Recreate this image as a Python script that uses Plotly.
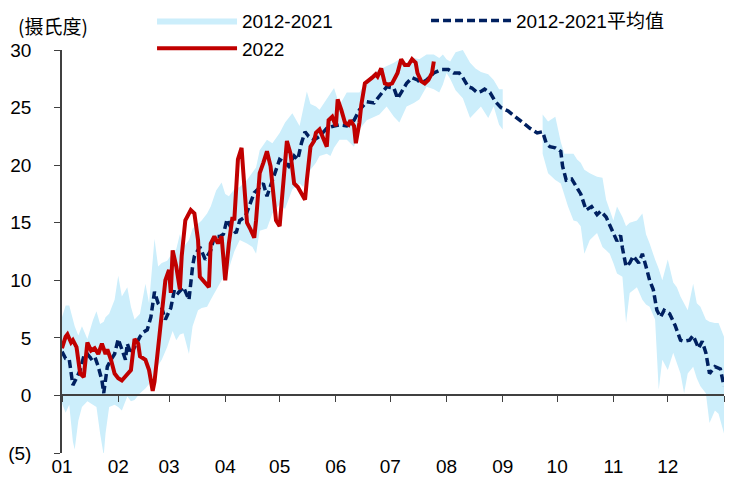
import plotly.graph_objects as go

# day of year (0 = 1 Jan), month axis labels
month_starts = [0, 31, 59, 90, 120, 151, 181, 212, 243, 273, 304, 334]
month_labels = ["01", "02", "03", "04", "05", "06", "07", "08", "09", "10", "11", "12"]

# 2012-2021 range (max / min); None marks the stretch with no data
band_days = [0, 2, 4, 6, 7, 9, 11, 14, 17, 19, 21, 23, 24, 26, 29, 31, 33, 36, 38, 40,
             43, 46, 48, 51, 53, 55, 58, 61, 63, 65, 67, 70, 72, 75, 77, 80, 82, 85, 88, 90,
             92, 95, 98, 102, 105, 107, 109, 113, 116, 120, 123, 127, 131, 133, 135, 137, 140, 142, 146, 148,
             150, 153, 157, 161, 164, 168, 172, 175, 179, 183, 186, 190, 194, 197, 201, 205, 208, 210, 212, 214,
             217, 221, 225, 228, 231, 235, 238, 241, 243, 254, 265, 268, 272, 275, 277, 279, 282, 284, 286, 288,
             291, 295, 298, 300, 302, 304, 306, 309, 311, 313, 317, 320, 322, 324, 327, 329, 331, 334, 337, 339,
             341, 343, 345, 348, 350, 352, 355, 357, 360, 362, 365]
band_hi = [6.8, 7.8, 7.8, 6.5, 6.0, 5.2, 6.0, 4.9, 6.5, 7.3, 6.2, 6.4, 6.8, 7.1, 8.3, 10.4, 8.6, 9.4, 7.7, 6.6,
           7.1, 9.7, 8.0, 13.6, 11.2, 11.5, 11.7, 12.4, 12.7, 14.0, 12.9, 13.5, 14.5, 14.9, 15.2, 15.8, 16.4, 17.8, 18.5, 17.5,
           17.3, 17.9, 18.1, 18.7, 19.3, 19.8, 21.3, 22.2, 21.9, 22.8, 23.7, 24.5, 23.4, 24.8, 26.4, 25.3, 25.1, 24.8, 25.8, 26.2,
           26.7, 25.2, 26.3, 26.3, 26.3, 27.4, 28.0, 28.3, 28.6, 28.9, 29.2, 28.9, 29.3, 29.2, 29.6, 29.6, 29.3, 29.6, 29.2, 29.0,
           29.8, 30.0, 28.9, 28.4, 28.1, 27.9, 27.4, 26.6, 26.6, None, 24.4, 23.8, 24.2, 22.0, 21.0, 21.0, 21.0, 20.5, 20.2, 19.6,
           19.3, 19.0, 18.9, 17.0, 16.0, 15.2, 16.4, 15.5, 14.7, 15.0, 15.2, 15.8, 14.0, 13.2, 11.8, 11.0, 10.0, 11.8, 9.8, 9.4,
           8.6, 8.0, 7.4, 9.7, 8.0, 7.7, 6.6, 6.4, 6.3, 6.3, 5.1]
band_lo = [-0.7, -1.5, -0.8, -4.0, -4.7, -2.2, -1.0, -0.5, -0.8, -1.0, -3.3, -5.2, -3.3, -1.0, -0.8, -1.0, -1.3, -0.1, -0.5, -0.4,
           0.2, 0.6, 1.0, 1.9, 2.6, 3.1, 4.2, 5.6, 4.8, 5.3, 5.4, 3.6, 6.0, 7.4, 7.6, 7.7, 8.3, 9.2, 10.0, 10.3,
           11.0, 12.5, 13.5, 13.2, 12.9, 12.3, 14.3, 14.5, 15.8, 16.6, 16.2, 17.9, 18.4, 18.1, 19.0, 19.6, 20.2, 20.8, 21.0, 20.8,
           21.5, 22.2, 22.2, 21.6, 23.1, 23.9, 24.2, 24.4, 25.1, 24.2, 23.7, 25.1, 25.4, 25.7, 26.8, 26.6, 26.3, 27.0, 28.0, 27.5,
           26.5, 25.8, 24.1, 24.6, 25.1, 24.1, 25.1, 23.5, 23.1, None, 21.0, 19.3, 18.7, 18.4, 17.5, 16.4, 15.2, 15.1, 14.7, 12.3,
           13.5, 14.1, 12.9, 12.6, 12.3, 11.5, 10.6, 10.3, 6.3, 8.9, 9.4, 8.3, 7.9, 7.7, 6.6, 0.5, 3.1, 2.2, 3.7, 2.8,
           1.9, 0.2, 1.9, 2.5, 1.5, 0.8, 0.2, -2.4, -1.3, -1.6, -3.3]

# 2012-2021 average
avg_days = [0, 2, 4, 5, 6, 8, 10, 12, 14, 16, 18, 20, 22, 23, 24, 25, 27, 29, 31, 33,
            35, 36, 38, 40, 43, 45, 47, 49, 51, 53, 55, 57, 60, 62, 64, 67, 70, 72, 73, 76,
            79, 82, 84, 87, 89, 91, 93, 96, 98, 101, 104, 106, 108, 111, 113, 116, 118, 120, 123, 125,
            128, 130, 132, 134, 136, 139, 142, 146, 150, 153, 157, 161, 164, 168, 172, 175, 179, 183, 185, 187,
            190, 193, 196, 198, 201, 205, 209, 213, 216, 219, 221, 224, 226, 229, 231, 233, 236, 239, 242, 246,
            258, 262, 265, 267, 269, 272, 275, 276, 278, 281, 284, 286, 289, 292, 295, 297, 300, 302, 304, 306,
            308, 309, 311, 313, 315, 318, 320, 322, 324, 326, 328, 330, 332, 335, 338, 341, 343, 346, 348, 351,
            353, 355, 357, 360, 363, 365]
avg_vals = [3.8, 3.2, 3.1, 1.9, 0.9, 1.5, 2.2, 3.4, 3.6, 3.2, 3.4, 2.5, 1.3, 0.2, 1.3, 2.5, 3.1, 3.6, 4.9, 3.9,
            3.1, 4.5, 3.6, 4.2, 5.1, 5.5, 5.7, 6.8, 9.0, 8.0, 7.6, 6.6, 7.6, 9.2, 8.9, 9.4, 8.3, 11.2, 12.1, 12.9,
            11.8, 12.6, 13.8, 13.8, 14.0, 15.3, 14.6, 14.1, 15.2, 15.5, 16.7, 17.6, 17.9, 18.4, 17.3, 18.7, 19.6, 20.5, 20.2, 19.9,
            20.8, 20.5, 21.9, 22.9, 22.5, 22.2, 22.5, 23.2, 23.4, 23.5, 23.4, 23.9, 24.8, 25.5, 25.4, 26.0, 26.8, 26.7, 25.8, 26.3,
            27.1, 27.6, 27.4, 27.1, 27.4, 28.0, 28.3, 28.3, 28.0, 28.0, 27.6, 26.8, 26.7, 26.3, 26.4, 26.6, 26.3, 25.5, 25.0, 24.7,
            23.2, 22.8, 22.9, 21.9, 21.6, 21.5, 21.2, 19.9, 18.7, 18.8, 18.0, 17.5, 16.1, 16.4, 15.7, 16.0, 15.5, 14.7, 14.1, 13.4,
            13.9, 12.8, 11.2, 11.5, 12.1, 11.5, 12.3, 11.2, 10.0, 9.2, 7.4, 6.8, 7.4, 7.1, 6.1, 4.8, 4.7, 4.8, 5.2, 4.1,
            4.7, 3.7, 1.9, 2.5, 2.3, 0.8]

# 2022
y22_days = [0, 2, 3, 5, 6, 8, 10, 12, 14, 16, 18, 20, 22, 24, 25, 27, 29, 31, 33, 36,
            38, 40, 42, 43, 46, 48, 50, 51, 53, 55, 57, 59, 60, 61, 63, 65, 66, 68, 71, 73,
            75, 76, 79, 81, 82, 84, 86, 88, 90, 92, 94, 95, 97, 99, 100, 102, 104, 106, 107, 109,
            111, 113, 115, 117, 118, 120, 122, 124, 126, 128, 130, 132, 134, 135, 137, 139, 140, 142, 144, 146,
            147, 149, 151, 152, 154, 156, 158, 159, 161, 162, 164, 165, 167, 169, 171, 173, 174, 176, 178, 180,
            182, 184, 185, 187, 189, 191, 193, 195, 196, 198, 200, 202, 204, 205]
y22_vals = [4.1, 5.1, 5.3, 4.6, 4.8, 4.2, 1.9, 1.6, 4.6, 3.9, 4.1, 3.6, 4.5, 3.6, 4.0, 3.1, 1.9, 1.5, 1.3, 1.8,
            2.2, 4.9, 4.5, 3.4, 3.1, 2.2, 0.4, 1.2, 3.9, 6.8, 10.0, 10.9, 8.9, 12.6, 11.2, 9.2, 12.1, 15.2, 16.1, 15.8,
            13.5, 10.3, 9.7, 9.4, 13.2, 13.8, 13.2, 13.8, 10.0, 13.2, 15.5, 15.2, 20.5, 21.5, 19.3, 15.0, 14.4, 13.7, 15.2, 19.3,
            20.2, 21.2, 19.9, 17.0, 15.2, 14.7, 18.7, 22.1, 21.0, 18.4, 18.1, 17.6, 17.0, 18.7, 21.6, 22.1, 22.8, 23.1, 22.3, 21.6,
            23.9, 24.2, 23.4, 25.7, 24.8, 23.7, 23.5, 23.9, 23.4, 21.9, 23.7, 25.2, 27.1, 27.3, 27.6, 27.9, 27.7, 28.4, 27.1, 27.0,
            27.1, 27.7, 28.0, 29.2, 28.7, 28.7, 29.2, 28.9, 28.0, 27.3, 27.1, 27.4, 28.0, 29.0]

y_ticks = [-5, 0, 5, 10, 15, 20, 25, 30]
y_ticktext = ["(5)", "0", "5", "10", "15", "20", "25", "30"]
y_min, y_max = -5, 30

BAND = "#CCEEFB"
NAVY = "#002060"
RED = "#C00000"
FONT = "Liberation Sans, Noto Sans CJK SC, Arial"

fig = go.Figure()

# split the range band wherever the data is missing
segments, cur = [], []
for d, hi, lo in zip(band_days, band_hi, band_lo):
    if hi is None:
        if cur:
            segments.append(cur)
        cur = []
    else:
        cur.append((d, hi, lo))
if cur:
    segments.append(cur)

for i, seg in enumerate(segments):
    ds = [s[0] for s in seg]
    his = [s[1] for s in seg]
    los = [s[2] for s in seg]
    fig.add_trace(go.Scatter(
        x=ds + ds[::-1], y=his + los[::-1],
        fill="toself", fillcolor=BAND, line=dict(width=0),
        mode="lines", name="2012-2021", legendgroup="band",
        showlegend=(i == 0), legendrank=1, hoverinfo="skip",
    ))

fig.add_trace(go.Scatter(
    x=avg_days, y=avg_vals, mode="lines", name="2012-2021平均值",
    line=dict(color=NAVY, width=3.5, dash="8px,4px"), legendrank=2,
))

fig.add_trace(go.Scatter(
    x=y22_days, y=y22_vals, mode="lines", name="2022", xaxis="x2",
    line=dict(color=RED, width=4), legendrank=3,
))

# page body adds an 8px offset, margins are trimmed to compensate
fig.update_layout(
    width=734, height=492,
    margin=dict(l=54, r=18, t=42, b=47, autoexpand=False),
    plot_bgcolor="white", paper_bgcolor="white",
    font=dict(family=FONT, size=19, color="black"),
    legend=dict(
        orientation="h", x=0.136, y=1.12, xanchor="left", yanchor="top",
        itemwidth=80, entrywidth=179, entrywidthmode="pixels",
        font=dict(size=19), bgcolor="rgba(0,0,0,0)", tracegroupgap=0,
    ),
    xaxis=dict(
        range=[0, 365], tickvals=month_starts, ticktext=month_labels,
        showline=False, ticks="", showgrid=False, zeroline=False,
        tickfont=dict(size=19),
    ),
    # x axis line drawn at y = 0
    xaxis2=dict(
        overlaying="x", matches="x", anchor="free",
        position=(0 - y_min) / (y_max - y_min),
        tickvals=month_starts + [365], showticklabels=False,
        showline=True, linecolor="#404040", linewidth=1.5,
        ticks="outside", ticklen=6, tickcolor="#404040",
        showgrid=False, zeroline=False,
    ),
    yaxis=dict(
        range=[y_min, y_max], tickvals=y_ticks, ticktext=y_ticktext,
        showline=True, linecolor="#404040", linewidth=1.5,
        ticks="outside", ticklen=6, tickcolor="#404040",
        ticklabelstandoff=19,
        showgrid=False, zeroline=False, tickfont=dict(size=19),
    ),
    showlegend=True,
)

# unit label, kept inside the top edge of the page
fig.add_annotation(
    text="(摄氏度)", xref="paper", yref="paper", x=-0.07, y=1.1,
    xanchor="left", yanchor="top", showarrow=False,
    font=dict(size=19, family="Noto Sans CJK SC"),
)

fig.write_html("out.html")
